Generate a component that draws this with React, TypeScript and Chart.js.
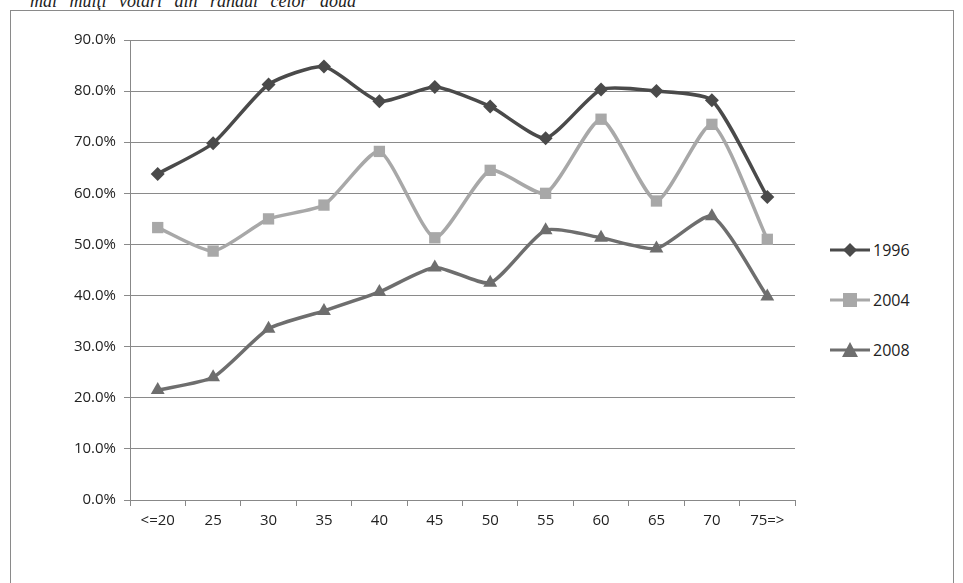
import React, { useEffect, useRef } from "react";
import { Chart, registerables } from "chart.js";

Chart.register(...registerables);

const categories = ["<=20", "25", "30", "35", "40", "45", "50", "55", "60", "65", "70", "75=>"];
const values1996 = [63.8, 69.8, 81.3, 84.8, 78.0, 80.8, 77.0, 70.8, 80.3, 80.0, 78.2, 59.3];
const values2004 = [53.3, 48.7, 55.0, 57.7, 68.2, 51.3, 64.5, 60.0, 74.5, 58.5, 73.5, 51.0];
const values2008 = [21.5, 24.0, 33.5, 37.0, 40.7, 45.5, 42.5, 52.8, 51.3, 49.2, 55.5, 39.8];

const series = [
  { label: "1996", data: values1996, color: "#4a4a4a", style: "rectRot", radius: 7 },
  { label: "2004", data: values2004, color: "#a8a8a8", style: "rect", radius: 8 },
  { label: "2008", data: values2008, color: "#6e6e6e", style: "triangle", radius: 8 },
];

const font = "'Open Sans', 'Liberation Sans', sans-serif";

const LegendMarker = ({ s }: { s: (typeof series)[number] }) => {
  const c = s.color;
  let shape: React.ReactNode;
  if (s.style === "rectRot") shape = <polygon points="20,2 27,9 20,16 13,9" fill={c} />;
  else if (s.style === "rect") shape = <rect x="13" y="2" width="14" height="14" fill={c} />;
  else shape = <polygon points="20,1 28,16 12,16" fill={c} />;
  return (
    <svg width="40" height="18" style={{ verticalAlign: "middle" }}>
      <line x1="0" y1="9" x2="40" y2="9" stroke={c} strokeWidth="3" />
      {shape}
    </svg>
  );
};

export default function App() {
  const canvasRef = useRef<HTMLCanvasElement | null>(null);

  useEffect(() => {
    const canvas = canvasRef.current;
    if (!canvas) return;
    const chart = new Chart(canvas, {
      type: "line",
      data: {
        labels: categories,
        datasets: series.map((s) => ({
          label: s.label,
          data: s.data,
          borderColor: s.color,
          backgroundColor: s.color,
          borderWidth: 3.5,
          tension: 0.2,
          pointStyle: s.style as any,
          pointRadius: s.radius,
          pointBorderWidth: 0,
        })),
      },
      options: {
        animation: false,
        responsive: false,
        layout: { padding: { top: 30, right: 15, left: 0, bottom: 0 } },
        plugins: { legend: { display: false }, tooltip: { enabled: false } },
        scales: {
          x: {
            offset: true,
            grid: { offset: true, drawOnChartArea: false, color: "#888", tickLength: 6 },
            border: { color: "#888" },
            ticks: { color: "#222", font: { family: font, size: 15 }, padding: 6 },
            afterFit: (s: any) => {
              s.height = 80;
            },
          },
          y: {
            min: 0,
            max: 90,
            ticks: {
              stepSize: 10,
              color: "#222",
              font: { family: font, size: 15 },
              padding: 8,
              callback: (v: any) => Number(v).toFixed(1) + "%",
            },
            grid: { color: "#8a8a8a", tickLength: 6 },
            border: { color: "#888" },
            afterFit: (s: any) => {
              s.width = 120;
            },
          },
        },
      },
    });
    return () => chart.destroy();
  }, []);

  return (
    <div style={{ position: "fixed", left: 0, top: 0, width: 963, height: 583, background: "#fff", overflow: "hidden" }}>
      <div
        style={{
          position: "absolute",
          left: 30,
          top: -9,
          fontFamily: "'Liberation Serif', serif",
          fontStyle: "italic",
          fontSize: 18,
          wordSpacing: 8,
          color: "#222",
        }}
      >
        mai mulţi votari din randul celor doua
      </div>
      <div
        style={{
          position: "absolute",
          left: 10,
          top: 10,
          width: 944,
          height: 580,
          border: "1px solid #8a8a8a",
          boxSizing: "border-box",
        }}
      />
      <canvas ref={canvasRef} width={800} height={570} style={{ position: "absolute", left: 10, top: 10 }} />
      {series.map((s, i) => (
        <div
          key={s.label}
          style={{
            position: "absolute",
            left: 830,
            top: 237 + i * 50,
            fontFamily: font,
            fontSize: 16,
            color: "#222",
            whiteSpace: "nowrap",
          }}
        >
          <LegendMarker s={s} />
          <span style={{ marginLeft: 3, verticalAlign: "middle" }}>{s.label}</span>
        </div>
      ))}
    </div>
  );
}
